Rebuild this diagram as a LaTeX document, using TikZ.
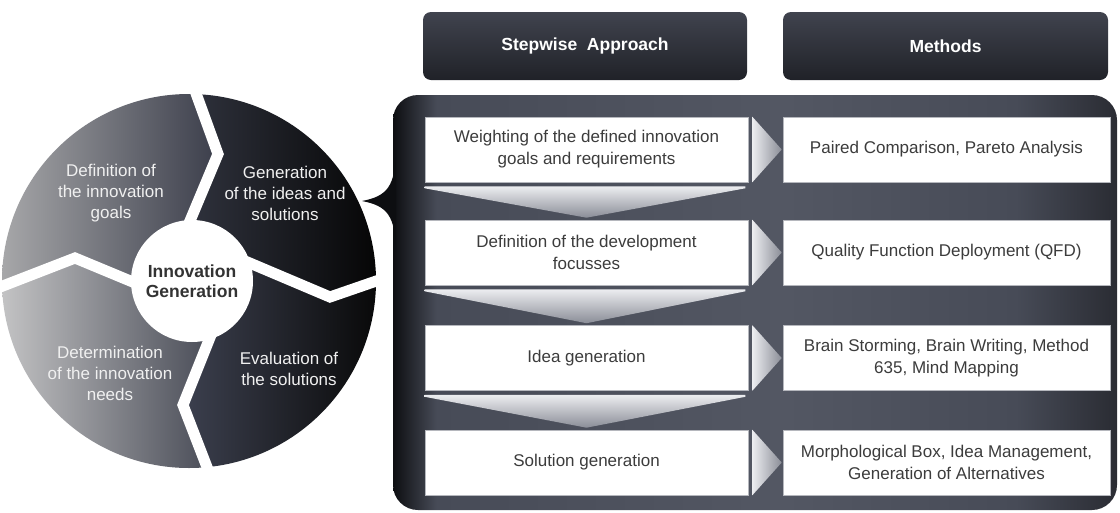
\documentclass[tikz,border=0pt]{standalone}
\usepackage{fontspec}
\setmainfont{Liberation Sans}
\usetikzlibrary{calc}
\definecolor{pA}{HTML}{0D0E11}
\definecolor{pB}{HTML}{474B57}
\definecolor{pC}{HTML}{535763}
\definecolor{pD}{HTML}{2A2C33}
\definecolor{hdrT}{HTML}{40434E}
\definecolor{hdrB}{HTML}{202228}
\definecolor{boxtext}{HTML}{3C3C3C}
\definecolor{boxline}{HTML}{B5B7BD}
\definecolor{arrL}{HTML}{ECEDF0}
\definecolor{arrR}{HTML}{8A8D97}
\definecolor{defL}{HTML}{A8A8AA}
\definecolor{defR}{HTML}{3A3D4A}
\definecolor{genL}{HTML}{30333E}
\definecolor{genR}{HTML}{050505}
\definecolor{evaL}{HTML}{3D4150}
\definecolor{evaR}{HTML}{080808}
\definecolor{detL}{HTML}{C4C4C5}
\definecolor{detR}{HTML}{474A55}
\definecolor{hubtext}{HTML}{333333}
\pgfdeclarehorizontalshading{panelsh}{100bp}{color(0bp)=(pA); color(25bp)=(pA); color(28bp)=(pB); color(52bp)=(pC); color(68bp)=(pB); color(75bp)=(pD); color(100bp)=(pD)}
\begin{document}
\begin{tikzpicture}[x=1pt,y=-1pt,
  hdr/.style={rounded corners=8pt, top color=hdrT, bottom color=hdrB, minimum width=324pt, minimum height=68pt, inner sep=0pt, text=white, font=\fontsize{17.5}{21}\selectfont\bfseries},
  stepbox/.style={fill=white, draw=boxline, line width=0.6pt, minimum width=323pt, minimum height=65pt, inner sep=0pt, align=center, text=boxtext, font=\fontsize{17}{22}\selectfont},
  methbox/.style={stepbox, minimum width=327pt},
  rarrow/.style={left color=arrL, right color=arrR},
  darrow/.style={top color=arrL, bottom color=arrR},
  seglabel/.style={align=center, text=white!94!black, font=\fontsize{17}{21}\selectfont, inner sep=0pt},
  gap/.style={draw=white, line width=11pt, line join=miter, miter limit=10},
  panelbox/.style={shade, shading=panelsh, rounded corners=25pt, minimum width=724pt, minimum height=415pt, inner sep=0pt},
]
\useasboundingbox[fill=white] (0,0) rectangle (1120,512);

% panel and brace
\node[panelbox] (panel) at (755,302.5) {};
\coordinate (tip) at (362,201);
\fill[pA] (396,150) .. controls (395,186) and (388,196) .. (tip) .. controls (388,206) and (395,216) .. (396,252) -- cycle;

% ring
\coordinate (C) at (189,281);
\begin{scope}
\clip (-20,60) -- (193,60) -- (193,85) -- (218,154) -- (187,228) -- (189,281) -- (140,285) -- (75,258) -- (-5,289) -- (-20,289) -- cycle;
\clip (C) circle[radius=187];
\shade[left color=defL, right color=defR] (0,90) rectangle (220,290);
\end{scope}
\begin{scope}
\clip (193,60) -- (400,60) -- (400,278) -- (385,278) -- (330,297) -- (245,261) -- (189,281) -- (187,228) -- (218,154) -- (193,85) -- cycle;
\clip (C) circle[radius=187];
\shade[left color=genL, right color=genR] (185,90) rectangle (380,300);
\end{scope}
\begin{scope}
\clip (400,278) -- (400,500) -- (212,500) -- (212,480) -- (183,405) -- (211,335) -- (189,281) -- (245,261) -- (330,297) -- (385,278) -- cycle;
\clip (C) circle[radius=187];
\shade[left color=evaL, right color=evaR] (180,255) rectangle (380,475);
\end{scope}
\begin{scope}
\clip (212,500) -- (-20,500) -- (-20,289) -- (-5,289) -- (75,258) -- (140,285) -- (189,281) -- (211,335) -- (183,405) -- (212,480) -- cycle;
\clip (C) circle[radius=187];
\shade[left color=detL, right color=detR] (0,255) rectangle (215,475);
\end{scope}
\draw[gap] (193,85) -- (218,154) -- (187,228);
\draw[gap] (385,278) -- (330,297) -- (245,261);
\draw[gap] (212,480) -- (183,405) -- (211,335);
\draw[gap] (-5,289) -- (75,258) -- (140,285);
\node[circle, fill=white, minimum size=122pt, inner sep=0pt, align=center, text=hubtext, font=\fontsize{17.5}{20}\selectfont\bfseries] (hub) at (192,281) {Innovation\\Generation};

\node[seglabel] (lDef) at (111,193) {Definition of\\the innovation\\goals};
\node[seglabel] (lGen) at (285,193) {Generation\\of the ideas and\\solutions};
\node[seglabel] (lDet) at (110,373) {Determination\\of the innovation\\needs};
\node[seglabel] (lEva) at (289,369) {Evaluation of\\the solutions};

% headers
\node[hdr] (h1) at (585,46) {Stepwise\ \ Approach};
\node[hdr, minimum width=325pt] (h2) at (945.5,46) {Methods};

% step boxes
\node[stepbox] (s1) at (586.5,149.5) {Weighting of the defined innovation\\goals and requirements};
\node[stepbox] (s2) at (586.5,252.5) {Definition of the development\\focusses};
\node[stepbox] (s3) at (586.5,358) {Idea generation};
\node[stepbox] (s4) at (586.5,462.5) {Solution generation};

\node[methbox] (m1) at (946.5,149.5) {Paired Comparison, Pareto Analysis};
\node[methbox] (m2) at (946.5,252.5) {Quality Function Deployment (QFD)};
\node[methbox] (m3) at (946.5,358) {Brain Storming, Brain Writing, Method\\635, Mind Mapping};
\node[methbox] (m4) at (946.5,462.5) {Morphological Box, Idea Management,\\Generation of Alternatives};

% right arrows
\foreach \i in {1,...,4}{
  \shade[rarrow] ($(s\i.north east)+(4,0)$) -- ($(m\i.west)+(-1,0)$) -- ($(s\i.south east)+(4,0)$) -- cycle;
}
% down chevrons
\foreach \i/\j in {1/2,2/3,3/4}{
  \shade[darrow] ($(s\i.south west)+(0,4)$) -- ($(s\i.south east)+(-3,4)$) -- ($(s\i.south east)+(-3,6)$) -- ($(s\j.north)+(0,-2)$) -- ($(s\i.south west)+(0,6)$) -- cycle;
}
\end{tikzpicture}
\end{document}
